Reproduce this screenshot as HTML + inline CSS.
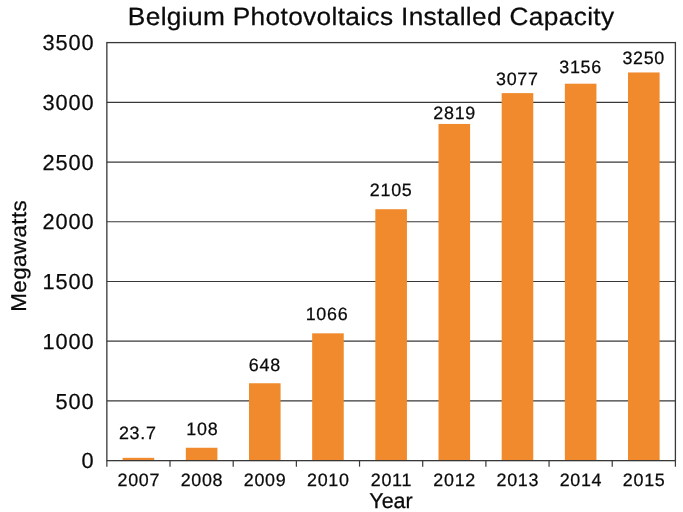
<!DOCTYPE html>
<html><head><meta charset="utf-8"><title>Belgium Photovoltaics Installed Capacity</title>
<style>
html,body{margin:0;padding:0;background:#fff;}
body{width:683px;height:512px;overflow:hidden;position:relative;font-family:"Liberation Sans", sans-serif;color:#0a0a0a;}
#chart{position:absolute;left:0;top:0;width:683px;height:512px;overflow:hidden;text-rendering:geometricPrecision;will-change:transform;}
svg{position:absolute;left:0;top:0;}
.t{position:absolute;white-space:nowrap;line-height:0;height:0;-webkit-text-stroke:0.25px #0a0a0a;}
.t span{display:inline-block;}
.title{font-size:25px;}
.title span{transform:scaleX(1.05);transform-origin:center;letter-spacing:0.33px;margin-right:-0.33px;}
.xl{font-size:21.5px;}
.xl span{}
.yl{font-size:21.5px;}
.yl span{transform:scaleX(1.04);transform-origin:center;letter-spacing:0.395px;margin-right:-0.395px;}
.yt{font-size:21.76px;}
.yt span{letter-spacing:0.93px;margin-right:-0.93px;}
.xt{font-size:17.9px;}
.xt span{letter-spacing:0.7px;margin-right:-0.7px;}
.bl{font-size:17.9px;}
.bl span{letter-spacing:0.7px;margin-right:-0.7px;}


</style></head><body><div id="chart">
<svg width="683" height="512" viewBox="0 0 683 512">
<line x1="106.85" y1="400.93" x2="675.4" y2="400.93" stroke="#383838" stroke-width="1.2"/>
<line x1="106.85" y1="341.21" x2="675.4" y2="341.21" stroke="#383838" stroke-width="1.2"/>
<line x1="106.85" y1="281.49" x2="675.4" y2="281.49" stroke="#383838" stroke-width="1.2"/>
<line x1="106.85" y1="221.76" x2="675.4" y2="221.76" stroke="#383838" stroke-width="1.2"/>
<line x1="106.85" y1="162.04" x2="675.4" y2="162.04" stroke="#383838" stroke-width="1.2"/>
<line x1="106.85" y1="102.32" x2="675.4" y2="102.32" stroke="#383838" stroke-width="1.2"/>
<rect x="122.64" y="457.82" width="31.59" height="2.83" fill="#f08a2c"/>
<rect x="185.82" y="447.75" width="31.59" height="12.90" fill="#f08a2c"/>
<rect x="248.99" y="383.25" width="31.59" height="77.40" fill="#f08a2c"/>
<rect x="312.16" y="333.32" width="31.59" height="127.33" fill="#f08a2c"/>
<rect x="375.33" y="209.22" width="31.59" height="251.43" fill="#f08a2c"/>
<rect x="438.50" y="123.94" width="31.59" height="336.71" fill="#f08a2c"/>
<rect x="501.68" y="93.12" width="31.59" height="367.53" fill="#f08a2c"/>
<rect x="564.85" y="83.69" width="31.59" height="376.96" fill="#f08a2c"/>
<rect x="628.02" y="72.46" width="31.59" height="388.19" fill="#f08a2c"/>
<rect x="106.85" y="42.6" width="568.55" height="418.05" fill="none" stroke="#383838" stroke-width="1.3"/>
<line x1="106.85" y1="460.65" x2="106.85" y2="466.65" stroke="#383838" stroke-width="1.2"/>
<line x1="170.02" y1="460.65" x2="170.02" y2="466.65" stroke="#383838" stroke-width="1.2"/>
<line x1="233.19" y1="460.65" x2="233.19" y2="466.65" stroke="#383838" stroke-width="1.2"/>
<line x1="296.37" y1="460.65" x2="296.37" y2="466.65" stroke="#383838" stroke-width="1.2"/>
<line x1="359.54" y1="460.65" x2="359.54" y2="466.65" stroke="#383838" stroke-width="1.2"/>
<line x1="422.71" y1="460.65" x2="422.71" y2="466.65" stroke="#383838" stroke-width="1.2"/>
<line x1="485.88" y1="460.65" x2="485.88" y2="466.65" stroke="#383838" stroke-width="1.2"/>
<line x1="549.06" y1="460.65" x2="549.06" y2="466.65" stroke="#383838" stroke-width="1.2"/>
<line x1="612.23" y1="460.65" x2="612.23" y2="466.65" stroke="#383838" stroke-width="1.2"/>
<line x1="675.40" y1="460.65" x2="675.40" y2="466.65" stroke="#383838" stroke-width="1.2"/>
</svg>
<div class="t title" style="left:371.25px;top:17.00px;transform:translateX(-50%);"><span style="">Belgium Photovoltaics Installed Capacity</span></div>
<div class="t yt" style="left:93.60px;top:43.00px;transform:translateX(-100%);"><span style="">3500</span></div>
<div class="t yt" style="left:93.60px;top:103.00px;transform:translateX(-100%);"><span style="">3000</span></div>
<div class="t yt" style="left:93.60px;top:163.00px;transform:translateX(-100%);"><span style="">2500</span></div>
<div class="t yt" style="left:93.60px;top:222.00px;transform:translateX(-100%);"><span style="">2000</span></div>
<div class="t yt" style="left:93.60px;top:282.00px;transform:translateX(-100%);"><span style="">1500</span></div>
<div class="t yt" style="left:93.60px;top:342.00px;transform:translateX(-100%);"><span style="">1000</span></div>
<div class="t yt" style="left:93.60px;top:402.00px;transform:translateX(-100%);"><span style="">500</span></div>
<div class="t yt" style="left:93.60px;top:461.00px;transform:translateX(-100%);"><span style="">0</span></div>
<div class="t xt" style="left:138.44px;top:480.00px;transform:translateX(-50%);"><span style="">2007</span></div>
<div class="t xt" style="left:201.61px;top:480.00px;transform:translateX(-50%);"><span style="">2008</span></div>
<div class="t xt" style="left:264.78px;top:480.00px;transform:translateX(-50%);"><span style="">2009</span></div>
<div class="t xt" style="left:327.95px;top:480.00px;transform:translateX(-50%);"><span style="">2010</span></div>
<div class="t xt" style="left:391.12px;top:480.00px;transform:translateX(-50%);"><span style="">2011</span></div>
<div class="t xt" style="left:454.30px;top:480.00px;transform:translateX(-50%);"><span style="">2012</span></div>
<div class="t xt" style="left:517.47px;top:480.00px;transform:translateX(-50%);"><span style="">2013</span></div>
<div class="t xt" style="left:580.64px;top:480.00px;transform:translateX(-50%);"><span style="">2014</span></div>
<div class="t xt" style="left:643.81px;top:480.00px;transform:translateX(-50%);"><span style="">2015</span></div>
<div class="t bl" style="left:137.44px;top:433.00px;transform:translateX(-50%);"><span style="">23.7</span></div>
<div class="t bl" style="left:202.01px;top:429.00px;transform:translateX(-50%);"><span style="">108</span></div>
<div class="t bl" style="left:264.48px;top:365.00px;transform:translateX(-50%);"><span style="">648</span></div>
<div class="t bl" style="left:326.65px;top:314.00px;transform:translateX(-50%);"><span style="">1066</span></div>
<div class="t bl" style="left:390.82px;top:190.00px;transform:translateX(-50%);"><span style="">2105</span></div>
<div class="t bl" style="left:454.30px;top:113.00px;transform:translateX(-50%);"><span style="">2819</span></div>
<div class="t bl" style="left:517.02px;top:79.00px;transform:translateX(-50%);"><span style="">3077</span></div>
<div class="t bl" style="left:580.29px;top:67.00px;transform:translateX(-50%);"><span style="">3156</span></div>
<div class="t bl" style="left:643.36px;top:58.00px;transform:translateX(-50%);"><span style="">3250</span></div>
<div class="t xl" style="left:391.00px;top:501.00px;transform:translateX(-50%);"><span style="">Year</span></div>
<div class="t yl" style="left:25.80px;top:256.00px;transform:rotate(-90deg) translate(-50%,-7.45px);transform-origin:0 0;"><span>Megawatts</span></div>
</div></body></html>
